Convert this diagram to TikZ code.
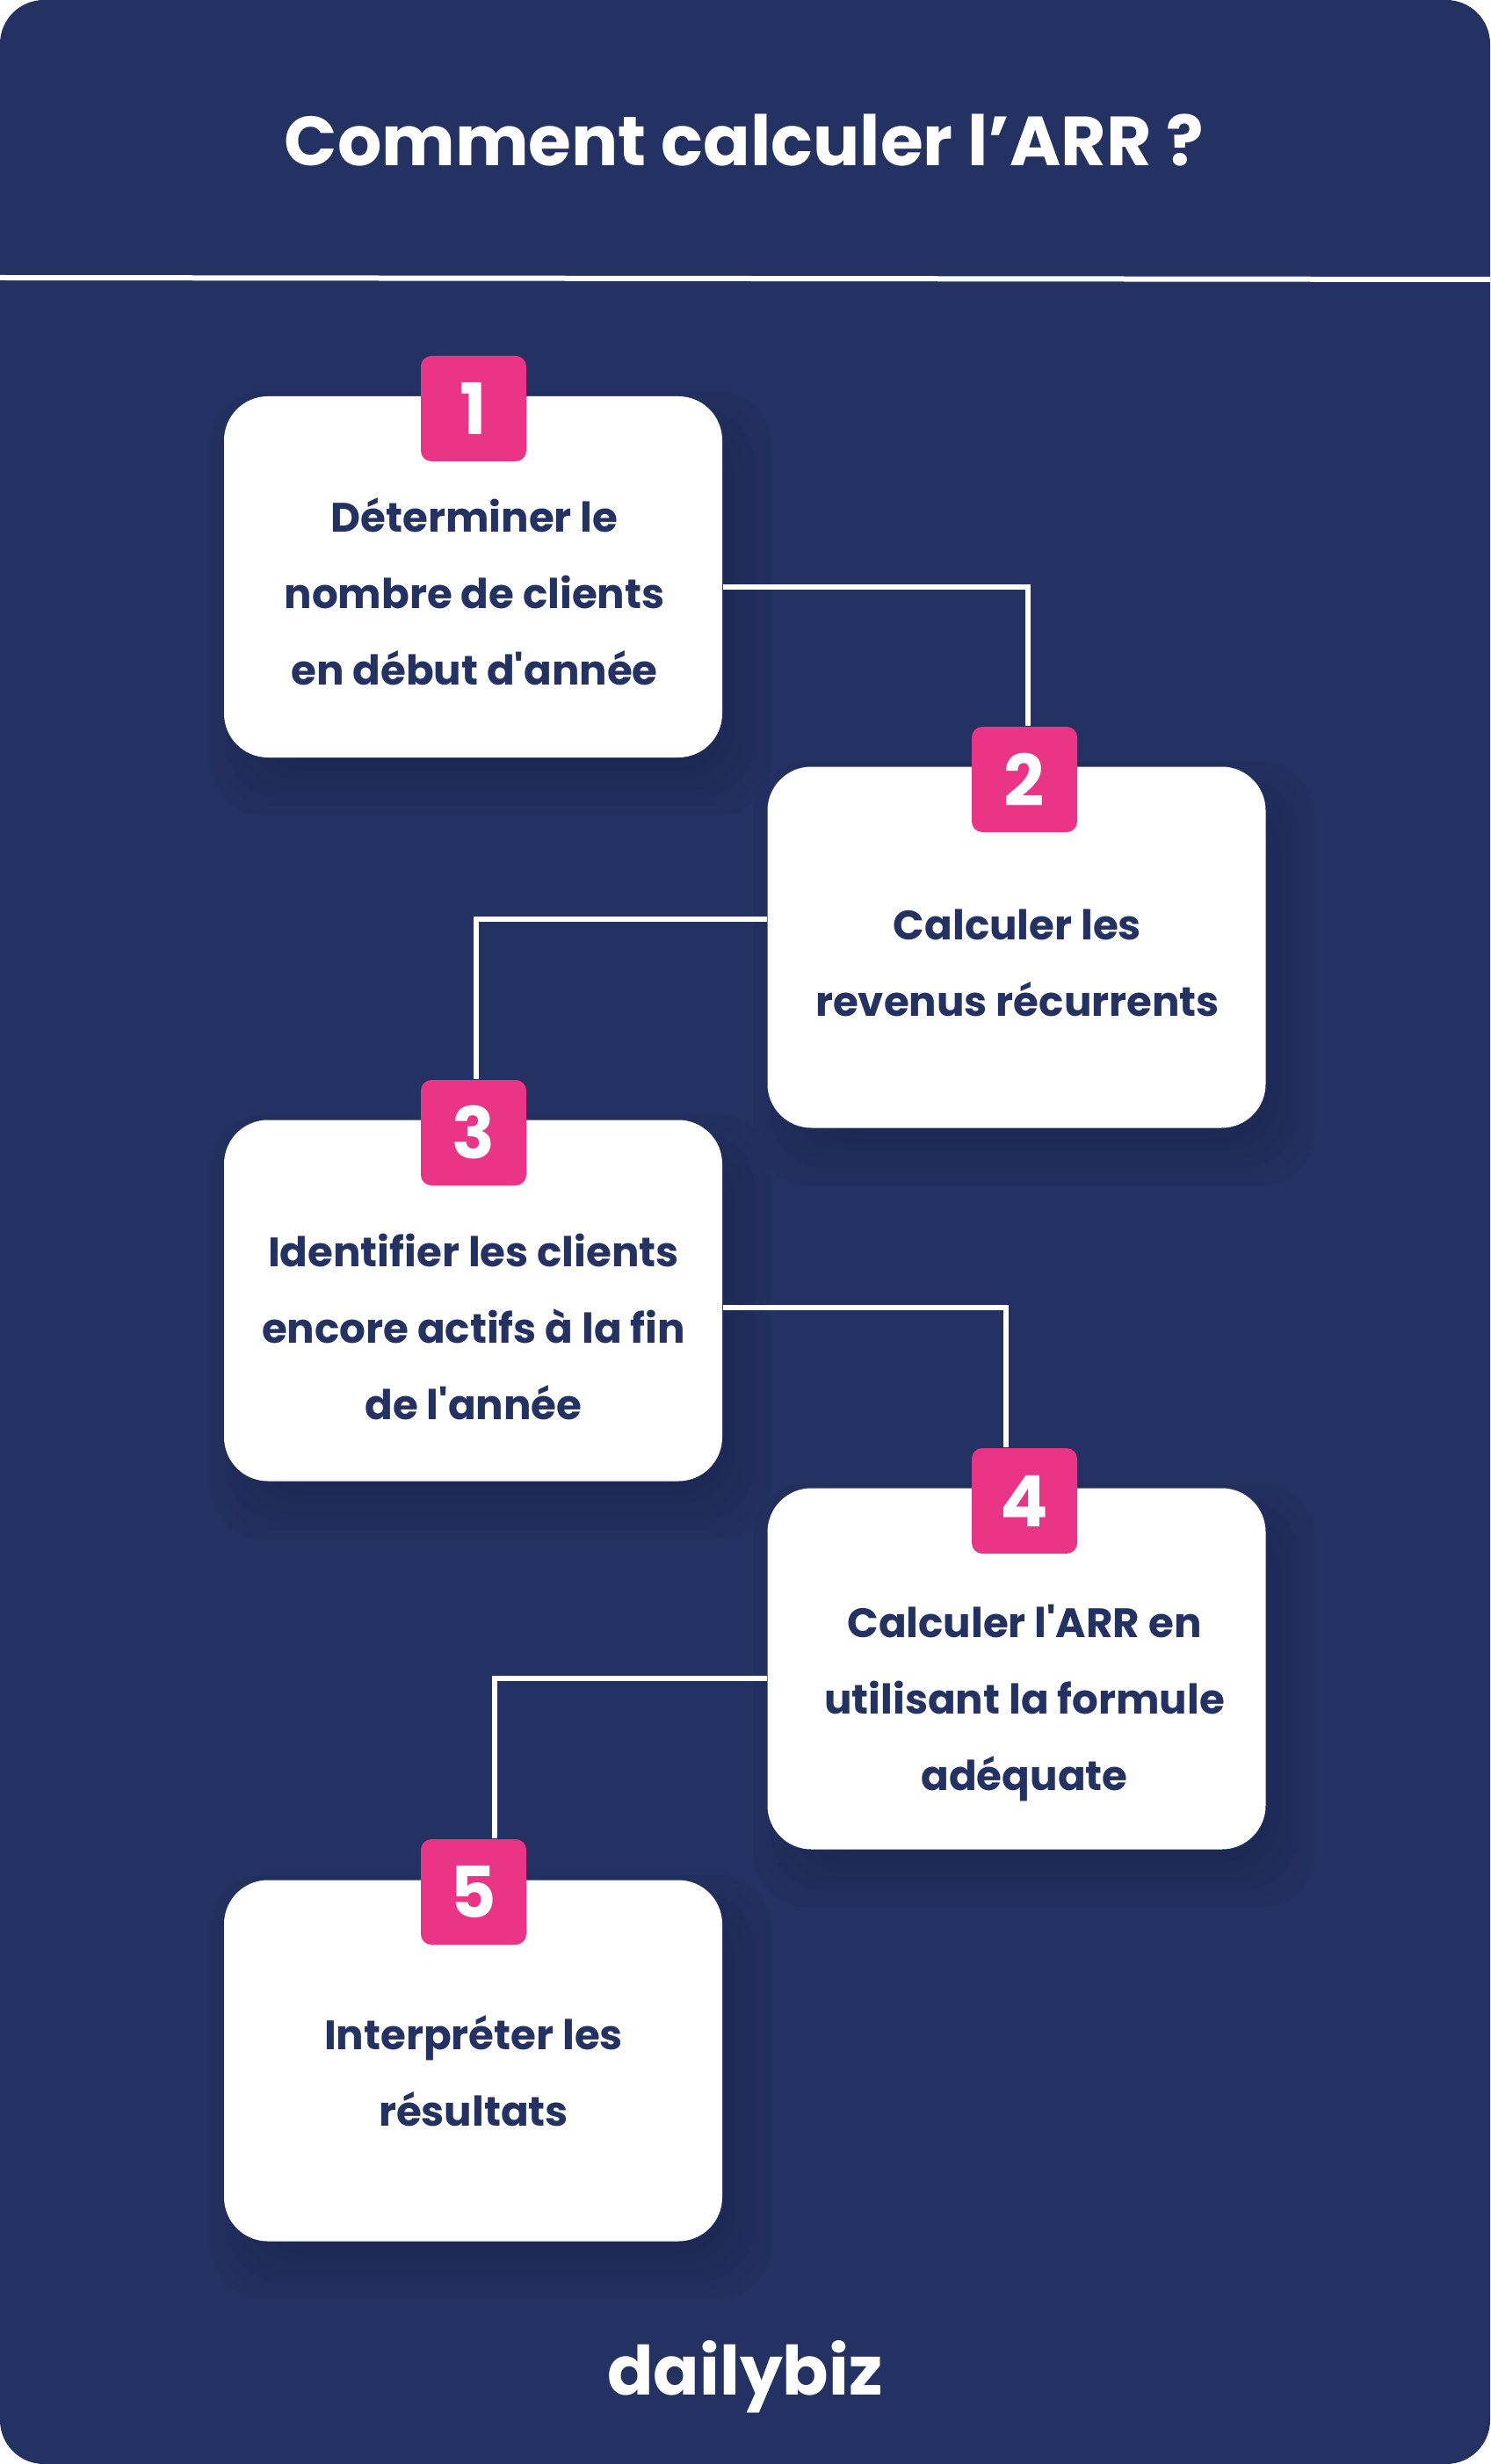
\documentclass[tikz,border=0pt]{standalone}
\usepackage{fontspec}
\setmainfont{Poppins}[BoldFont=* Bold, Ligatures=TeXOff]
\usepackage{xcolor}
\usetikzlibrary{backgrounds}
\definecolor{navy}{RGB}{35,50,98}
\definecolor{navydark}{RGB}{22,32,72}
\definecolor{rosepink}{RGB}{234,52,133}

\begin{document}
\begin{tikzpicture}[
  card/.style={fill=white, rounded corners=0.5cm, minimum width=5.67cm, minimum height=4.11cm, inner sep=0pt},
  badge/.style={fill=rosepink, rounded corners=0.12cm, minimum size=1.2cm, inner sep=0pt, text=white, font=\fontsize{23}{23}\selectfont\bfseries},
  cardtext/.style={align=center, inner sep=0pt, text=navy, font=\fontsize{13.3}{24.75}\selectfont\bfseries},
  link/.style={draw=white, line width=0.06cm}
]
\useasboundingbox (0,0) rectangle (16.96,-28.04);

\node (title) at (8.47,-1.60) [inner sep=0pt, text=white, font=\fontsize{22.5}{26}\selectfont\bfseries] {Comment calculer l’ARR ?};
\coordinate (ruleL) at (0,-3.16);
\coordinate (ruleR) at (16.96,-3.18);
\draw[white, line width=0.06cm] (ruleL) -- (ruleR);

% cards and their number tags
\node[card] (cardA) at (5.385,-6.565) {};
\node[card] (cardB) at (11.57,-10.78) {};
\node[card] (cardC) at (5.385,-14.80) {};
\node[card] (cardD) at (11.57,-18.99) {};
\node[card] (cardE) at (5.385,-23.45) {};

\node[badge] (tagA) at (5.39,-4.65) {1};
\node[badge] (tagB) at (11.66,-8.87) {2};
\node[badge] (tagC) at (5.39,-12.89) {3};
\node[badge] (tagD) at (11.66,-17.08) {4};
\node[badge] (tagE) at (5.39,-21.53) {5};

\node[cardtext] (textA) at (5.40,-6.73) {Déterminer le\\nombre de clients\\en début d'année};
\node[cardtext] (textB) at (11.58,-10.96) {Calculer les\\revenus récurrents};
\node[cardtext] (textC) at (5.39,-15.10) {Identifier les clients\\encore actifs à la fin\\de l'année};
\node[cardtext] (textD) at (11.66,-19.38) {Calculer l'ARR en\\utilisant la formule\\adéquate};
\node[cardtext] (textE) at (5.39,-23.57) {Interpréter les\\résultats};

% elbows between the steps
\draw[link] ([yshift=-0.115cm]cardA.east) -| ([xshift=0.04cm]tagB.north);
\draw[link] ([yshift=0.32cm]cardB.west) -| ([xshift=0.03cm]tagC.north);
\draw[link] ([yshift=-0.08cm]cardC.east) -| ([xshift=-0.21cm]tagD.north);
\draw[link] ([yshift=-0.11cm]cardD.west) -| ([xshift=0.24cm]tagE.north);

\node (brand) at (8.48,-27.25) [anchor=base, inner sep=0pt, text=white, font=\fontsize{22}{22}\selectfont\bfseries] {dailybiz};

\begin{scope}[on background layer]
\fill[white] (0,0) rectangle (16.96,-28.04);
\fill[navy, rounded corners=0.5cm] (0,0) rectangle (16.96,-28.04);
\foreach \c in {cardA,cardB,cardC,cardD,cardE} {
  \foreach \g in {-0.25,-0.15,...,0.45} {
    \fill[navydark, opacity=0.07, rounded corners=0.6cm]
      ([shift={(0.2-\g,-0.3-\g)}]\c.south west) rectangle ([shift={(0.2+\g,-0.3+\g)}]\c.north east);
  }
}
\end{scope}
\end{tikzpicture}
\end{document}
